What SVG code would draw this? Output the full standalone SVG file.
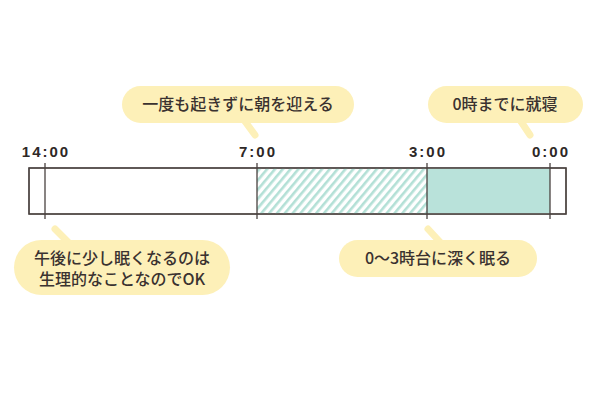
<svg xmlns="http://www.w3.org/2000/svg" width="600" height="400" viewBox="0 0 600 400">
<defs>
<style>
.bubble{fill:#fdf0b8}
.tail{stroke:#fdf0b8;stroke-width:7;stroke-linecap:round;fill:none}
.bt{font-family:"Noto Sans CJK JP","Noto Sans",sans-serif;font-size:16px;font-weight:500;fill:#3a3230;text-anchor:middle}
.tm{font-family:"Liberation Sans",Arial,sans-serif;font-size:15px;font-weight:bold;fill:#2e2826;letter-spacing:2px;text-anchor:middle}
.tick{stroke:#4a4240;stroke-width:1.3}
</style>
<pattern id="hatch" width="6" height="6" patternUnits="userSpaceOnUse" patternTransform="rotate(40)">
<rect x="0" y="0" width="2.6" height="6" fill="#b3e0d6"/>
</pattern>
</defs>
<rect width="600" height="400" fill="#ffffff"/>
<g id="bar">
<rect x="29" y="168" width="537" height="46" fill="#ffffff" stroke="#4a4240" stroke-width="1.3"/>
<rect x="257" y="168.7" width="170" height="44.6" fill="url(#hatch)"/>
<rect x="427" y="168.7" width="123" height="44.6" fill="#b9e2da"/>
<rect x="29" y="168" width="537" height="46" fill="none" stroke="#4a4240" stroke-width="1.3"/>
</g>
<g id="connectors">
<line class="tick" x1="45" y1="163" x2="45" y2="219"/>
<line class="tick" x1="257" y1="163" x2="257" y2="219"/>
<line class="tick" x1="427" y1="163" x2="427" y2="219"/>
<line class="tick" x1="550" y1="163" x2="550" y2="219"/>
<line class="tail" x1="244" y1="120" x2="255" y2="135"/>
<line class="tail" x1="520" y1="120" x2="530" y2="135"/>
<line class="tail" x1="68" y1="242" x2="55" y2="229"/>
<line class="tail" x1="440" y1="242" x2="428" y2="229"/>
</g>
<g id="time-labels">
<text class="tm" x="46" y="157">14:00</text>
<text class="tm" x="258" y="157">7:00</text>
<text class="tm" x="428" y="157">3:00</text>
<text class="tm" x="551" y="157">0:00</text>
</g>
<g id="bubble-morning">
<rect class="bubble" x="122" y="86" width="232" height="37" rx="18.5"/>
<text class="bt" x="238" y="110">一度も起きずに朝を迎える</text>
</g>
<g id="bubble-bedtime">
<rect class="bubble" x="428" y="86" width="155" height="37" rx="18.5"/>
<text class="bt" x="505" y="110">0時までに就寝</text>
</g>
<g id="bubble-afternoon">
<rect class="bubble" x="14" y="240" width="216" height="55" rx="27.5"/>
<text class="bt" x="122" y="264">午後に少し眠くなるのは</text>
<text class="bt" x="122" y="285">生理的なことなのでOK</text>
</g>
<g id="bubble-deep">
<rect class="bubble" x="339" y="240" width="198" height="37" rx="18.5"/>
<text class="bt" x="438" y="264">0〜3時台に深く眠る</text>
</g>
</svg>
